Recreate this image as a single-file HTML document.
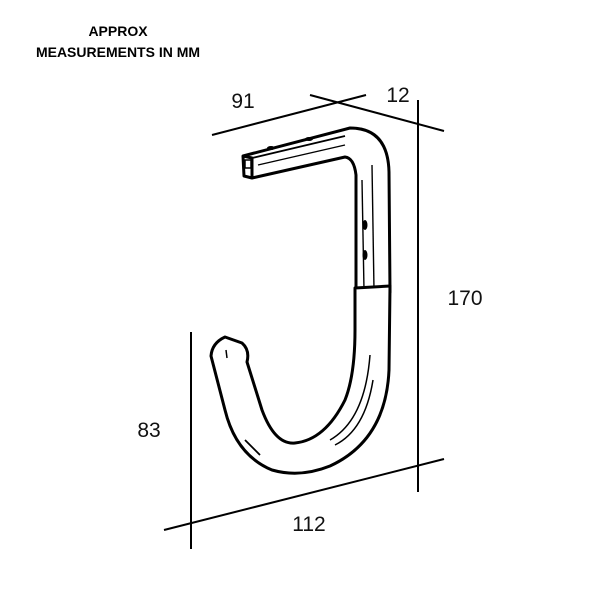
<!DOCTYPE html>
<html><head><style>
html,body{margin:0;padding:0;background:#fff;width:600px;height:600px;overflow:hidden}
</style></head><body>
<svg width="600" height="600" viewBox="0 0 600 600" xmlns="http://www.w3.org/2000/svg">
<rect width="600" height="600" fill="#fff"/>
<g font-family="Liberation Sans, sans-serif" text-anchor="middle">
<text x="118" y="36" font-size="14" font-weight="bold">APPROX</text>
<text x="118" y="57" font-size="14" font-weight="bold">MEASUREMENTS IN MM</text>
<g font-size="21" fill="#111">
<text x="243" y="108">91</text>
<text x="398" y="102">12</text>
<text x="465" y="305">170</text>
<text x="149" y="437">83</text>
<text x="309" y="531">112</text>
</g>
</g>
<g stroke="#000" stroke-width="2" fill="none">
<line x1="212" y1="135" x2="366" y2="95"/>
<line x1="310" y1="95" x2="444" y2="131"/>
<line x1="418" y1="100" x2="418" y2="492"/>
<line x1="191" y1="332" x2="191" y2="549"/>
<line x1="164" y1="530" x2="444" y2="459"/>
</g>
<g stroke="#000" stroke-width="3" fill="#fff" stroke-linejoin="round">
<path d="M243,156 L350,128 Q388,128 389,172 L390,292 L356,292 L356,175 Q354,158 345,157 L252,178 L244,176 Z"/>
<path d="M243,156 L252,158 L252,178" fill="none"/>
<path d="M252,158 L345,136" fill="none" stroke-width="1.8"/>
<path d="M258,165 L345,145" fill="none" stroke-width="1.4"/>
<rect x="245" y="160" width="6" height="8" fill="none" stroke-width="1.5"/>
<line x1="372" y1="165" x2="374" y2="290" stroke-width="1.4"/>
<line x1="362" y1="180" x2="364" y2="290" stroke-width="1.4"/>
<ellipse cx="365" cy="225" rx="2.5" ry="5" fill="#000" stroke="none"/>
<ellipse cx="365" cy="255" rx="2.5" ry="5" fill="#000" stroke="none"/>
<ellipse cx="271" cy="148" rx="4" ry="2" fill="#000" stroke="none"/>
<ellipse cx="309" cy="139" rx="4" ry="2" fill="#000" stroke="none"/>
<path d="M355,288 L390,286 L389,370 Q386,440 330,466 Q300,478 272,470 Q236,455 225,410 L211,356 Q212,343 225,337 L242,343 Q250,350 247,362 L262,410 Q275,445 295,443 Q325,440 345,400 Q355,375 355,330 Z"/>
<path d="M370,355 Q365,420 330,440" fill="none" stroke-width="1.5"/>
<path d="M373,380 Q365,430 335,445" fill="none" stroke-width="1.5"/>
<path d="M245,440 L260,455" fill="none" stroke-width="1.8"/>
<line x1="226" y1="350" x2="227" y2="358" stroke-width="1.5"/>
</g>
</svg>
</body></html>
